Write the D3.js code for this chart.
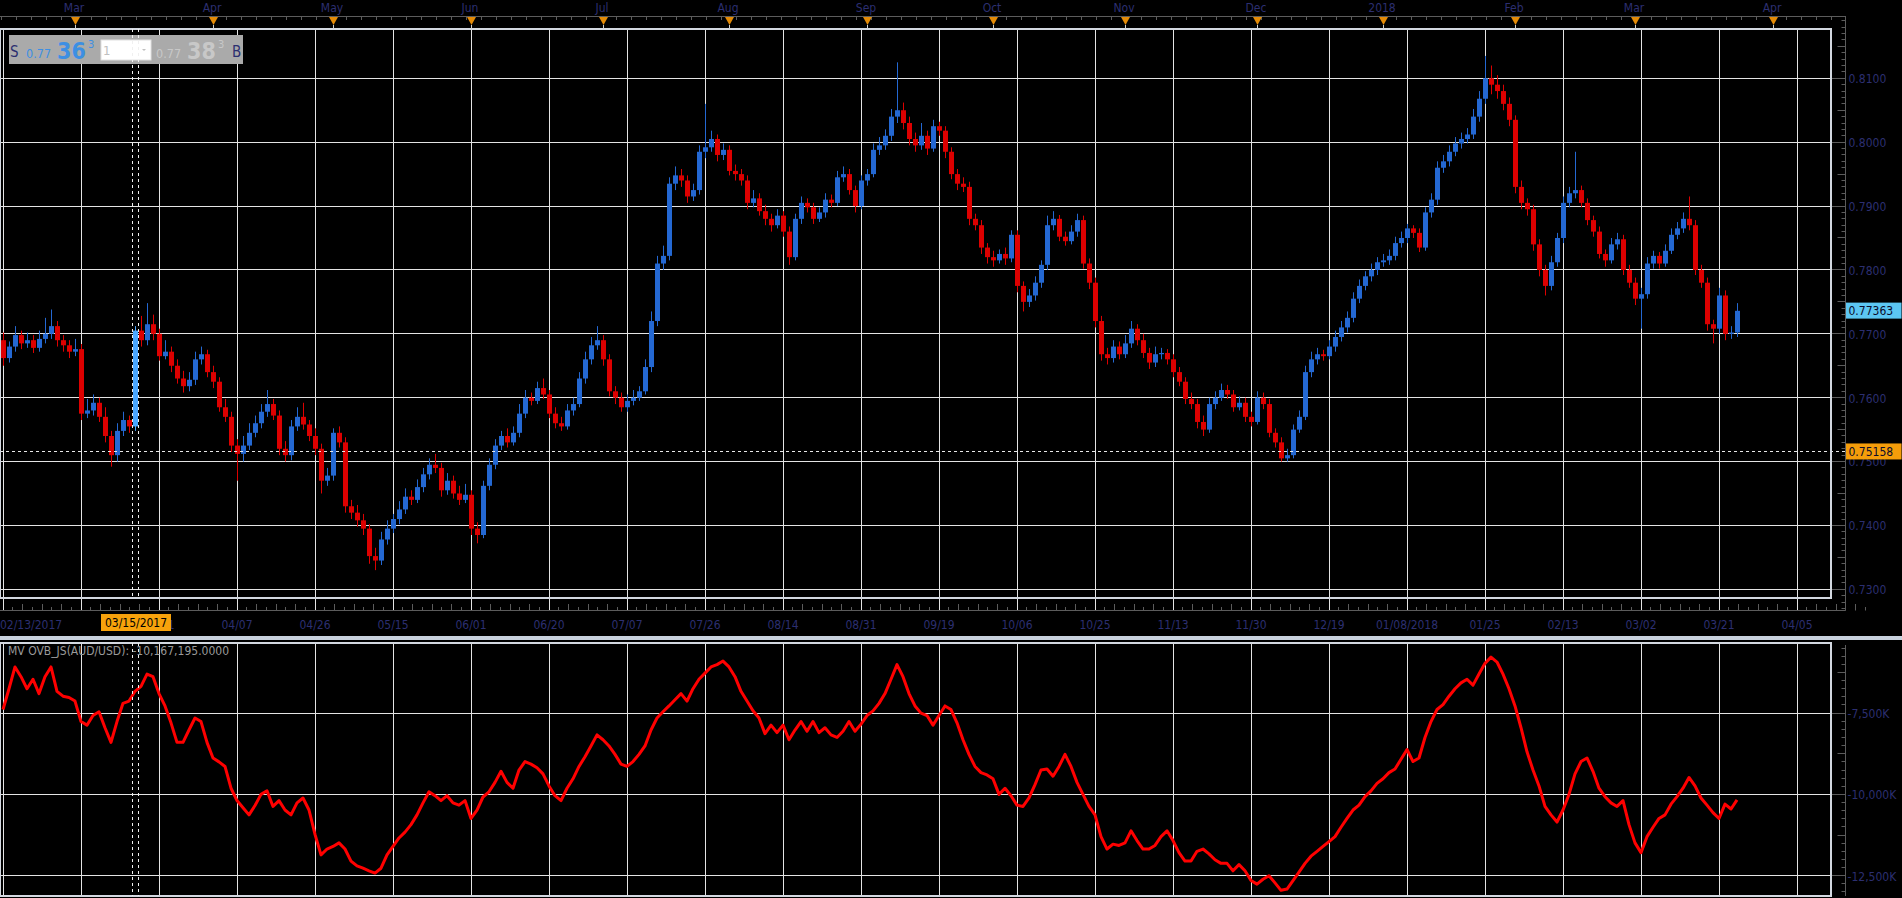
<!DOCTYPE html>
<html><head><meta charset="utf-8">
<script src="https://cdn.jsdelivr.net/npm/d3@7"></script>
<style>
html,body{margin:0;padding:0;background:#000;overflow:hidden}
svg{display:block}
text{font-family:"DejaVu Sans Condensed","DejaVu Sans","Liberation Sans",sans-serif}
</style></head><body>
<svg id="chart" width="1902" height="898"></svg>
<script>
// ---------------- DATA ----------------
// AUD/USD daily candles, one per weekday starting 02/13/2017 (index 0)
const opens = [
.7690,.7662,.7680,.7698,.7685,.7690,.7678,.7692,.7700,.7712,
.7690,.7682,.7672,.7676,.7575,.7580,.7592,.7570,.7540,.7510,
.7548,.7565,.7555,.7705,.7690,.7715,.7700,.7665,.7672,.7650,
.7630,.7618,.7628,.7660,.7668,.7640,.7625,.7585,.7570,.7525,
.7512,.7525,.7545,.7560,.7578,.7590,.7572,.7520,.7510,.7555,
.7570,.7558,.7540,.7520,.7470,.7478,.7545,.7530,.7430,.7420,
.7408,.7395,.7352,.7345,.7378,.7395,.7410,.7425,.7445,.7440,
.7460,.7480,.7495,.7490,.7455,.7470,.7450,.7440,.7448,.7395,
.7385,.7462,.7495,.7525,.7540,.7530,.7545,.7575,.7600,.7595,
.7615,.7605,.7575,.7560,.7555,.7580,.7590,.7630,.7660,.7682,
.7690,.7660,.7610,.7600,.7585,.7595,.7600,.7610,.7648,.7720,
.7810,.7822,.7935,.7948,.7940,.7915,.7925,.7985,.7992,.8005,
.7980,.7988,.7955,.7950,.7940,.7905,.7912,.7892,.7880,.7870,
.7885,.7860,.7820,.7880,.7905,.7898,.7880,.7890,.7910,.7905,
.7945,.7950,.7925,.7900,.7940,.7950,.7988,.7995,.8010,.8040,
.8050,.8030,.8005,.7995,.8010,.7990,.8025,.8018,.7985,.7950,
.7935,.7930,.7880,.7870,.7835,.7820,.7815,.7825,.7818,.7855,
.7775,.7750,.7760,.7780,.7808,.7870,.7880,.7852,.7845,.7860,
.7878,.7810,.7780,.7720,.7668,.7662,.7680,.7668,.7685,.7708,
.7690,.7670,.7655,.7668,.7670,.7660,.7640,.7625,.7598,.7590,
.7562,.7550,.7590,.7600,.7612,.7605,.7585,.7592,.7570,.7562,
.7600,.7590,.7545,.7530,.7505,.7510,.7550,.7570,.7640,.7660,
.7668,.7665,.7680,.7695,.7710,.7725,.7755,.7775,.7790,.7800,
.7812,.7815,.7822,.7842,.7850,.7865,.7858,.7835,.7890,.7910,
.7960,.7970,.7985,.7998,.8005,.8012,.8040,.8068,.8100,.8090,
.8080,.8060,.8035,.7930,.7905,.7895,.7840,.7800,.7775,.7812,
.7850,.7905,.7920,.7925,.7905,.7878,.7860,.7825,.7815,.7840,
.7848,.7800,.7780,.7755,.7762,.7810,.7822,.7810,.7830,.7855,
.7865,.7880,.7870,.7800,.7780,.7715,.7708,.7760,.7700,.7702];
const highs = [
.7702,.7688,.7712,.7705,.7702,.7698,.7705,.7725,.7738,.7720,
.7698,.7690,.7692,.7684,.7598,.7605,.7600,.7585,.7548,.7560,
.7578,.7572,.7712,.7728,.7748,.7730,.7708,.7690,.7680,.7660,
.7642,.7640,.7672,.7680,.7675,.7650,.7632,.7598,.7578,.7535,
.7540,.7560,.7572,.7590,.7612,.7598,.7580,.7532,.7565,.7585,
.7592,.7565,.7552,.7528,.7490,.7552,.7555,.7538,.7440,.7432,
.7418,.7402,.7365,.7390,.7408,.7418,.7438,.7458,.7455,.7472,
.7490,.7505,.7512,.7498,.7482,.7478,.7462,.7465,.7455,.7405,
.7470,.7505,.7535,.7548,.7552,.7555,.7590,.7612,.7608,.7625,
.7630,.7612,.7585,.7570,.7590,.7600,.7640,.7672,.7695,.7712,
.7698,.7668,.7618,.7608,.7605,.7612,.7618,.7660,.7735,.7822,
.7838,.7945,.7962,.7958,.7948,.7935,.7995,.8060,.8018,.8012,
.7998,.7995,.7965,.7958,.7948,.7925,.7920,.7902,.7888,.7895,
.7892,.7868,.7888,.7915,.7912,.7905,.7898,.7920,.7918,.7955,
.7962,.7958,.7932,.7948,.7958,.7998,.8008,.8020,.8052,.8125,
.8062,.8040,.8015,.8030,.8018,.8035,.8032,.8025,.7992,.7958,
.7945,.7938,.7888,.7878,.7842,.7830,.7832,.7835,.7862,.7862,
.7782,.7770,.7790,.7815,.7885,.7892,.7886,.7860,.7870,.7888,
.7885,.7818,.7788,.7728,.7678,.7690,.7688,.7698,.7720,.7715,
.7700,.7678,.7680,.7678,.7676,.7668,.7648,.7632,.7608,.7598,
.7572,.7600,.7610,.7622,.7620,.7612,.7602,.7600,.7578,.7610,
.7608,.7598,.7552,.7538,.7520,.7558,.7580,.7650,.7672,.7678,
.7675,.7690,.7705,.7720,.7735,.7765,.7785,.7798,.7810,.7820,
.7825,.7832,.7852,.7860,.7872,.7870,.7865,.7898,.7920,.7970,
.7980,.7995,.8008,.8015,.8022,.8052,.8080,.8135,.8120,.8105,
.8090,.8070,.8042,.7940,.7912,.7902,.7848,.7808,.7822,.7858,
.7915,.7930,.7985,.7932,.7912,.7885,.7868,.7832,.7850,.7858,
.7855,.7808,.7788,.7772,.7820,.7830,.7828,.7840,.7865,.7875,
.7890,.7915,.7878,.7808,.7788,.7722,.7772,.7768,.7712,.7748];
const lows = [
.7650,.7655,.7672,.7676,.7678,.7670,.7672,.7685,.7692,.7680,
.7672,.7662,.7665,.7565,.7568,.7572,.7562,.7530,.7492,.7500,
.7540,.7545,.7548,.7680,.7682,.7690,.7658,.7660,.7640,.7622,
.7608,.7610,.7620,.7652,.7632,.7615,.7578,.7562,.7515,.7470,
.7500,.7518,.7538,.7552,.7570,.7565,.7510,.7500,.7502,.7548,
.7550,.7532,.7510,.7450,.7462,.7470,.7522,.7420,.7410,.7398,
.7385,.7340,.7330,.7338,.7370,.7388,.7402,.7418,.7432,.7435,
.7452,.7472,.7482,.7445,.7448,.7442,.7432,.7435,.7385,.7372,
.7380,.7455,.7488,.7518,.7522,.7525,.7538,.7568,.7588,.7590,
.7598,.7568,.7552,.7548,.7550,.7572,.7585,.7622,.7652,.7675,
.7650,.7602,.7590,.7578,.7578,.7588,.7595,.7605,.7640,.7712,
.7800,.7815,.7925,.7930,.7905,.7908,.7918,.7975,.7985,.7970,
.7972,.7948,.7940,.7932,.7895,.7898,.7885,.7870,.7860,.7865,
.7852,.7808,.7815,.7872,.7890,.7872,.7875,.7882,.7898,.7900,
.7938,.7918,.7890,.7895,.7932,.7945,.7980,.7988,.8002,.8030,
.8020,.7995,.7985,.7988,.7980,.7985,.8010,.7975,.7942,.7925,
.7922,.7870,.7862,.7825,.7810,.7805,.7810,.7808,.7812,.7765,
.7735,.7742,.7752,.7772,.7800,.7862,.7845,.7838,.7840,.7852,
.7802,.7770,.7710,.7658,.7652,.7655,.7660,.7662,.7678,.7682,
.7662,.7645,.7648,.7660,.7652,.7632,.7618,.7590,.7582,.7552,
.7540,.7545,.7582,.7595,.7598,.7578,.7580,.7562,.7555,.7558,
.7582,.7538,.7522,.7500,.7500,.7505,.7545,.7565,.7632,.7652,
.7658,.7660,.7672,.7688,.7702,.7718,.7748,.7768,.7782,.7792,
.7805,.7808,.7815,.7835,.7842,.7850,.7828,.7830,.7882,.7902,
.7952,.7962,.7978,.7990,.7998,.8005,.8032,.8060,.8075,.8068,
.8050,.8025,.7920,.7895,.7885,.7830,.7790,.7760,.7768,.7805,
.7842,.7898,.7912,.7898,.7870,.7852,.7818,.7805,.7810,.7832,
.7792,.7772,.7745,.7708,.7755,.7802,.7802,.7805,.7825,.7848,
.7858,.7862,.7792,.7772,.7705,.7685,.7700,.7690,.7692,.7695];
const closes = [
.7662,.7680,.7698,.7685,.7690,.7678,.7692,.7700,.7712,.7690,
.7682,.7672,.7676,.7575,.7580,.7592,.7570,.7540,.7510,.7548,
.7565,.7555,.7705,.7690,.7715,.7700,.7665,.7672,.7650,.7630,
.7618,.7628,.7660,.7668,.7640,.7625,.7585,.7570,.7525,.7512,
.7525,.7545,.7560,.7578,.7590,.7572,.7520,.7510,.7555,.7570,
.7558,.7540,.7520,.7470,.7478,.7545,.7530,.7430,.7420,.7408,
.7395,.7352,.7345,.7378,.7395,.7410,.7425,.7445,.7440,.7460,
.7480,.7495,.7490,.7455,.7470,.7450,.7440,.7448,.7395,.7385,
.7462,.7495,.7525,.7540,.7530,.7545,.7575,.7600,.7595,.7615,
.7605,.7575,.7560,.7555,.7580,.7590,.7630,.7660,.7682,.7690,
.7660,.7610,.7600,.7585,.7595,.7600,.7610,.7648,.7720,.7810,
.7822,.7935,.7948,.7940,.7915,.7925,.7985,.7992,.8005,.7980,
.7988,.7955,.7950,.7940,.7905,.7912,.7892,.7880,.7870,.7885,
.7860,.7820,.7880,.7905,.7898,.7880,.7890,.7910,.7905,.7945,
.7950,.7925,.7900,.7940,.7950,.7988,.7995,.8010,.8040,.8050,
.8030,.8005,.7995,.8010,.7990,.8025,.8018,.7985,.7950,.7935,
.7930,.7880,.7870,.7835,.7820,.7815,.7825,.7818,.7855,.7775,
.7750,.7760,.7780,.7808,.7870,.7880,.7852,.7845,.7860,.7878,
.7810,.7780,.7720,.7668,.7662,.7680,.7668,.7685,.7708,.7690,
.7670,.7655,.7668,.7670,.7660,.7640,.7625,.7598,.7590,.7562,
.7550,.7590,.7600,.7612,.7605,.7585,.7592,.7570,.7562,.7600,
.7590,.7545,.7530,.7505,.7510,.7550,.7570,.7640,.7660,.7668,
.7665,.7680,.7695,.7710,.7725,.7755,.7775,.7790,.7800,.7812,
.7815,.7822,.7842,.7850,.7865,.7858,.7835,.7890,.7910,.7960,
.7970,.7985,.7998,.8005,.8012,.8040,.8068,.8100,.8090,.8080,
.8060,.8035,.7930,.7905,.7895,.7840,.7800,.7775,.7812,.7850,
.7905,.7920,.7925,.7905,.7878,.7860,.7825,.7815,.7840,.7848,
.7800,.7780,.7755,.7762,.7810,.7822,.7810,.7830,.7855,.7865,
.7880,.7870,.7800,.7780,.7715,.7708,.7760,.7700,.7702,.7736];
// On-balance volume indicator, thousands
const obvK = [
-7390,-6750,-6080,-6380,-6750,-6460,-6900,-6380,-6080,-6830,
-6980,-7020,-7130,-7760,-7870,-7575,-7460,-7950,-8400,-7760,
-7200,-7130,-6830,-6680,-6300,-6380,-6900,-7280,-7800,-8400,
-8400,-8020,-7650,-7760,-8400,-8880,-9000,-9140,-9810,-10190,
-10410,-10630,-10340,-10000,-9890,-10370,-10190,-10480,-10630,-10260,
-10110,-10480,-11230,-11860,-11680,-11600,-11490,-11680,-12050,-12200,
-12270,-12350,-12420,-12270,-11860,-11600,-11340,-11160,-10930,-10630,
-10260,-9920,-10040,-10190,-10040,-10260,-10330,-10190,-10740,-10480,
-10080,-9920,-9630,-9290,-9630,-9810,-9250,-8990,-9070,-9180,
-9370,-9740,-10040,-10190,-9810,-9520,-9140,-8840,-8510,-8170,
-8320,-8510,-8770,-9070,-9140,-8990,-8770,-8510,-8020,-7650,
-7460,-7280,-7090,-6900,-7130,-6750,-6460,-6270,-6080,-6010,
-5900,-6080,-6380,-6830,-7130,-7430,-7650,-8130,-7870,-8100,
-7870,-8320,-8020,-7760,-8060,-7760,-8100,-7950,-8170,-8250,
-8060,-7760,-8060,-7840,-7575,-7430,-7200,-6900,-6460,-6010,
-6380,-6900,-7280,-7500,-7575,-7870,-7575,-7280,-7390,-7800,
-8320,-8770,-9140,-9330,-9400,-9520,-10000,-9810,-10040,-10330,
-10370,-10110,-9700,-9250,-9220,-9440,-9140,-8770,-9140,-9630,
-10000,-10370,-10630,-11300,-11680,-11530,-11570,-11490,-11120,-11420,
-11680,-11680,-11570,-11300,-11120,-11420,-11790,-12050,-12050,-11750,
-11680,-11830,-12010,-12120,-12120,-12350,-12160,-12350,-12650,-12760,
-12610,-12500,-12720,-12950,-12910,-12650,-12390,-12120,-11900,-11750,
-11600,-11450,-11300,-11010,-10740,-10480,-10330,-10070,-9890,-9660,
-9520,-9330,-9220,-8920,-8620,-8990,-8880,-8250,-7760,-7390,
-7240,-6980,-6750,-6570,-6460,-6640,-6300,-5970,-5780,-5930,
-6300,-6750,-7280,-7950,-8690,-9250,-9740,-10370,-10630,-10850,
-10480,-10000,-9370,-8990,-8880,-9290,-9810,-10070,-10260,-10370,
-10190,-10930,-11490,-11790,-11300,-11010,-10740,-10630,-10300,-10070,
-9810,-9480,-9740,-10110,-10330,-10560,-10740,-10300,-10450,-10167];

// date gridlines every 13 bars; null = label hidden
const dateLabels = ["02/13/2017",null,"03/21","04/07","04/26","05/15","06/01","06/20","07/07","07/26",
  "08/14","08/31","09/19","10/06","10/25","11/13","11/30","12/19","01/08/2018","01/25","02/13","03/02","03/21","04/05"];
const monthNames = ["Mar","Apr","May","Jun","Jul","Aug","Sep","Oct","Nov","Dec","2018","Feb","Mar","Apr"];
const monthBars = [12,35,55,78,100,121,144,165,187,209,230,252,272,295];
const priceTicks = [0.73,0.74,0.75,0.76,0.77,0.78,0.79,0.80,0.81];
const obvTicks = [-7500,-10000,-12500];
const obvTickLabels = ["-7,500K","-10,000K","-12,500K"];
const crossBar = 22, crossDate = "03/15/2017";
const lastPrice = 0.77363, markPrice = 0.75158;
const indicatorTitle = "MV OVB_JS(AUD/USD): -10,167,195.0000";
const quoteBid = ["0.77","36","3"], quoteAsk = ["0.77","38","3"];

// ---------------- LAYOUT ----------------
const W = 1902, H = 898;
const P = {left:0, right:1831, top:29, bottom:598};   // price panel
const L = {top:643, bottom:896};                       // indicator panel
const axisX = 1845.5;
const svg = d3.select("#chart");
svg.append("rect").attr("width",W).attr("height",H).attr("fill","#000");

const x = d3.scaleLinear().domain([0,1]).range([3,9]);
const yP = d3.scaleLinear().domain([0.73,0.81]).range([589.3,78.3]);
const yO = d3.scaleLinear().domain([-12500,-7500]).range([875.7,713.1]);
const crisp = v => Math.floor(v)+0.5;

const GRID = "#e4e4e4", AX = "#5c5c5c", LAB = "#2c2f70";
const UP = "#2468d2", DN = "#dd0000";

// gridlines
const gridBars = d3.range(dateLabels.length).map(k=>k*13);
const gUp = svg.append("g");
gUp.selectAll("line.v").data(gridBars).join("line")
  .attr("x1",d=>crisp(x(d))).attr("x2",d=>crisp(x(d)))
  .attr("y1",P.top).attr("y2",610).attr("stroke",GRID).attr("stroke-width",1);
gUp.selectAll("line.h").data(priceTicks).join("line")
  .attr("x1",0).attr("x2",axisX).attr("y1",d=>crisp(yP(d))).attr("y2",d=>crisp(yP(d)))
  .attr("stroke",(d)=>GRID).attr("stroke-width",1);
const gLo = svg.append("g");
gLo.selectAll("line.v").data(gridBars).join("line")
  .attr("x1",d=>crisp(x(d))).attr("x2",d=>crisp(x(d)))
  .attr("y1",L.top).attr("y2",L.bottom).attr("stroke",GRID);
gLo.selectAll("line.h").data(obvTicks).join("line")
  .attr("x1",0).attr("x2",axisX).attr("y1",d=>crisp(yO(d))).attr("y2",d=>crisp(yO(d)))
  .attr("stroke",GRID);
svg.selectAll("line.ht").data(priceTicks).join("line")
  .attr("x1",P.right+1).attr("x2",axisX).attr("y1",d=>crisp(yP(d))).attr("y2",d=>crisp(yP(d))).attr("stroke",AX);
svg.selectAll("line.ot").data(obvTicks).join("line")
  .attr("x1",P.right+1).attr("x2",axisX).attr("y1",d=>crisp(yO(d))).attr("y2",d=>crisp(yO(d))).attr("stroke",AX);

// candles
const idx = d3.range(closes.length);
const gC = svg.append("g");
const candleCol = i => i===crossBar?"#4aa6ff":(closes[i]>=opens[i]?UP:DN);
gC.selectAll("line").data(idx).join("line")
  .attr("x1",i=>Math.round(x(i))+0.5).attr("x2",i=>Math.round(x(i))+0.5)
  .attr("y1",i=>yP(highs[i])).attr("y2",i=>yP(lows[i]))
  .attr("stroke",candleCol).attr("stroke-width",1);
gC.selectAll("rect").data(idx).join("rect")
  .attr("x",i=>Math.round(x(i))-2).attr("width",5)
  .attr("y",i=>yP(Math.max(opens[i],closes[i])))
  .attr("height",i=>Math.max(1,Math.abs(yP(opens[i])-yP(closes[i]))))
  .attr("fill",candleCol);

// marked price dashed line
svg.append("line").attr("x1",0).attr("x2",axisX).attr("y1",crisp(yP(markPrice))).attr("y2",crisp(yP(markPrice)))
  .attr("stroke","#e8e8e8").attr("stroke-dasharray","3,3");

// OBV line
svg.append("path").datum(idx)
  .attr("d",d3.line().x(i=>x(i)).y(i=>yO(obvK[i])))
  .attr("fill","none").attr("stroke","#ff0000").attr("stroke-width",3).attr("stroke-linejoin","round");

// panel borders
svg.append("rect").attr("x",0).attr("y",P.top).attr("width",P.right).attr("height",P.bottom-P.top)
  .attr("fill","none").attr("stroke","#d3d8e0").attr("stroke-width",2);
svg.append("rect").attr("x",0).attr("y",L.top).attr("width",P.right).attr("height",L.bottom-L.top)
  .attr("fill","none").attr("stroke","#d3d8e0").attr("stroke-width",2);
svg.append("rect").attr("x",0).attr("y",636).attr("width",W).attr("height",4).attr("fill","#c8d1dd");

// top axis
svg.append("line").attr("x1",0).attr("x2",axisX).attr("y1",16.5).attr("y2",16.5).attr("stroke",AX);
svg.selectAll("line.tt").data(d3.range(0,123)).join("line")
  .attr("x1",k=>crisp(x(k*2.5)-2)).attr("x2",k=>crisp(x(k*2.5)-2))
  .attr("y1",16.5).attr("y2",20).attr("stroke",AX);
svg.selectAll("text.mon").data(monthNames).join("text")
  .attr("x",(d,i)=>x(monthBars[i])-1).attr("y",11.5).attr("text-anchor","middle")
  .attr("font-size",12).attr("fill",LAB).text(d=>d);
svg.selectAll("path.tri").data(monthBars).join("path")
  .attr("d",b=>{const c=x(b)+0.5;return `M${c-4.5},17L${c+4.5},17L${c},25Z`;})
  .attr("fill","#e38a06");
svg.selectAll("line.trt").data(monthBars).join("line")
  .attr("x1",b=>crisp(x(b))).attr("x2",b=>crisp(x(b))).attr("y1",25).attr("y2",29).attr("stroke","#cfcfcf");

// right price axis
svg.append("line").attr("x1",axisX).attr("x2",axisX).attr("y1",16).attr("y2",610.5).attr("stroke",AX);
const minorP = d3.range(727,820).map(v=>v/1000);
svg.selectAll("line.mp").data(minorP).join("line")
  .attr("x1",d=> (Math.round(d*1000)%5===0)?axisX-8:axisX-4).attr("x2",axisX)
  .attr("y1",d=>crisp(yP(d))).attr("y2",d=>crisp(yP(d))).attr("stroke",AX);
const pAxis = svg.append("g").attr("transform",`translate(${axisX},0)`)
  .call(d3.axisRight(yP).tickValues(priceTicks).tickSize(0).tickPadding(3).tickFormat(d3.format(".4f")));
pAxis.select(".domain").remove();
pAxis.selectAll("text").attr("font-size",12).attr("fill",LAB)
  .attr("font-family","\"DejaVu Sans Condensed\",\"DejaVu Sans\",sans-serif").attr("dy","0.36em");

// bottom date axis
svg.append("line").attr("x1",0).attr("x2",axisX).attr("y1",610.5).attr("y2",610.5).attr("stroke",AX);
const subTicks = d3.range(0, 24*8).filter(k=>k%8!==0);
svg.selectAll("line.bt").data(subTicks).join("line")
  .attr("x1",k=>crisp(x(k*13/8))).attr("x2",k=>crisp(x(k*13/8)))
  .attr("y1",610.5).attr("y2",k=>k%2===0?604:607).attr("stroke",AX);
svg.selectAll("text.dl").data(dateLabels).join("text")
  .attr("x",(d,k)=>k===0?0:x(k*13)).attr("y",628.5)
  .attr("text-anchor",(d,k)=>k===0?"start":"middle")
  .attr("font-size",12).attr("fill",LAB).text(d=>d||"");

// lower right axis
svg.append("line").attr("x1",axisX).attr("x2",axisX).attr("y1",645).attr("y2",L.bottom).attr("stroke",AX);
const minorO = d3.range(-5500,-13251,-250);
svg.selectAll("line.mo").data(minorO).join("line")
  .attr("x1",d=>(d%1250===0)?axisX-8:axisX-4).attr("x2",axisX)
  .attr("y1",d=>crisp(yO(d))).attr("y2",d=>crisp(yO(d))).attr("stroke",AX)
  .attr("display",d=>(yO(d)<646||yO(d)>895)?"none":null);
svg.selectAll("text.ol").data(obvTicks).join("text")
  .attr("x",axisX+2).attr("y",d=>yO(d)+5).attr("font-size",12).attr("fill",LAB)
  .text((d,i)=>obvTickLabels[i]);

// indicator title
svg.append("text").attr("x",8).attr("y",655).attr("font-size",12).attr("fill","#9a9a9a").text(indicatorTitle);

// price tags
function tag(price, fill){
  const yy = yP(price);
  svg.append("rect").attr("x",axisX+0.5).attr("y",yy-8).attr("width",W-axisX-1).attr("height",16).attr("fill",fill);
  svg.append("text").attr("x",axisX+3).attr("y",yy+4.5).attr("font-size",12).attr("fill","#0b0b2a").text(d3.format(".5f")(price));
}
tag(lastPrice,"#5cc6f2");
tag(markPrice,"#f59d0a");

// quote widget
const wg = svg.append("g");
wg.append("rect").attr("x",9).attr("y",35).attr("width",234).attr("height",29).attr("fill","#aaaaaa");
wg.append("text").attr("x",10).attr("y",57).attr("font-size",15).attr("fill",LAB).text("S");
wg.append("text").attr("x",26).attr("y",58).attr("font-size",12.5).attr("fill","#3d8fe3").text(quoteBid[0]);
wg.append("text").attr("x",57).attr("y",59).attr("font-size",23).attr("font-weight","bold").attr("fill","#3d8fe3").text(quoteBid[1]);
wg.append("text").attr("x",88).attr("y",48).attr("font-size",11).attr("fill","#3d8fe3").text(quoteBid[2]);
wg.append("rect").attr("x",101).attr("y",40).attr("width",50).attr("height",20).attr("fill","#fff").attr("stroke","#e0e0e0");
wg.append("text").attr("x",103).attr("y",55).attr("font-size",13).attr("fill","#c0c0c0").text("1");
wg.append("path").attr("d","M142,49L146,49L144,51Z").attr("fill","#c0c0c0");
wg.append("text").attr("x",156).attr("y",58).attr("font-size",12.5).attr("fill","#c8c8c8").text(quoteAsk[0]);
wg.append("text").attr("x",187).attr("y",59).attr("font-size",23).attr("font-weight","bold").attr("fill","#c8c8c8").text(quoteAsk[1]);
wg.append("text").attr("x",218).attr("y",48).attr("font-size",11).attr("fill","#c8c8c8").text(quoteAsk[2]);
wg.append("text").attr("x",232).attr("y",57).attr("font-size",15).attr("fill",LAB).text("B");

// crosshair
const cx = x(crossBar);
[[P.top,P.bottom],[L.top,L.bottom]].forEach(([a,b])=>{
  [cx-2.5, cx+3.5].forEach(xx=>{
    svg.append("line").attr("x1",Math.floor(xx)+0.5).attr("x2",Math.floor(xx)+0.5).attr("y1",a).attr("y2",b)
      .attr("stroke","#f0f0f0").attr("stroke-dasharray","3,3");
  });
});
svg.append("rect").attr("x",cx-34).attr("y",614).attr("width",70).attr("height",17).attr("fill","#f7a20c");
svg.append("text").attr("x",cx+1).attr("y",627).attr("text-anchor","middle").attr("font-size",12).attr("fill","#000").text(crossDate);
</script>
</body></html>
